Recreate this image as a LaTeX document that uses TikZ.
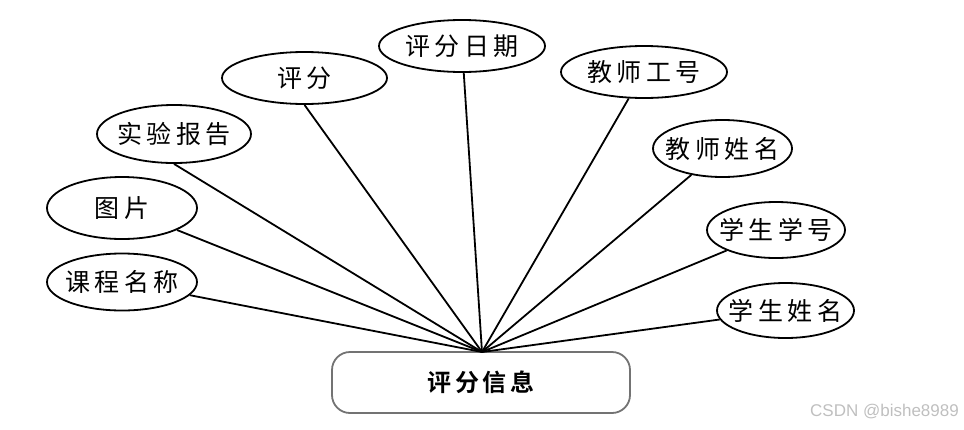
\documentclass[tikz,border=0pt]{standalone}
\usepackage{fontspec}
\setmainfont{Liberation Sans}
\newfontfamily\cjk[LetterSpace=18]{Noto Sans CJK SC}
\newfontfamily\cjkbold[LetterSpace=14]{Noto Sans CJK SC Bold}
\usetikzlibrary{shapes.geometric}
\newcommand{\ctext}[1]{\makebox[0pt][c]{#1}}
\tikzset{
  attr/.style={ellipse, draw=black, line width=1.8pt, inner sep=0pt,
    font=\cjk\fontsize{25}{28}\selectfont},
  entity/.style={rectangle, rounded corners=18pt, draw=black!55, line width=1.8pt,
    minimum width=298pt, minimum height=61pt, inner sep=0pt,
    font=\cjkbold\fontsize{24}{28}\selectfont},
  link/.style={line width=1.8pt, black}
}
\begin{document}
\begin{tikzpicture}[x=1pt,y=-1pt]
\useasboundingbox (0,0) rectangle (964,429);
\node[entity] (main) at (481,382.5) {\ctext{评分信息}};
\coordinate (hub) at (482,352);
\node[attr, minimum width=150pt, minimum height=57pt] (kc) at (122,282) {\ctext{课程名称}};
\node[attr, minimum width=150pt, minimum height=62pt] (tp) at (122,208) {\ctext{图片}};
\node[attr, minimum width=154pt, minimum height=58pt] (sy) at (174,134) {\ctext{实验报告}};
\node[attr, minimum width=165pt, minimum height=52pt] (pf) at (304.5,78) {\ctext{评分}};
\node[attr, minimum width=166pt, minimum height=52pt] (rq) at (462,46) {\ctext{评分日期}};
\node[attr, minimum width=166pt, minimum height=52pt] (gh) at (644,72) {\ctext{教师工号}};
\node[attr, minimum width=139pt, minimum height=57pt] (jx) at (722.5,148.5) {\ctext{教师姓名}};
\node[attr, minimum width=138pt, minimum height=56pt] (xh) at (776,230) {\ctext{学生学号}};
\node[attr, minimum width=137pt, minimum height=55pt] (xm) at (785.5,310.5) {\ctext{学生姓名}};
\foreach \n in {kc,tp,rq,gh,jx,xh,xm} \draw[link] (\n) -- (hub);
\draw[link] (sy.south) -- (hub);
\draw[link] (pf.south) -- (hub);
\node[text=black!25, font=\fontsize{17}{20}\selectfont, anchor=east, inner sep=0pt] (wm) at (959,412) {CSDN @bishe8989};
\end{tikzpicture}
\end{document}
